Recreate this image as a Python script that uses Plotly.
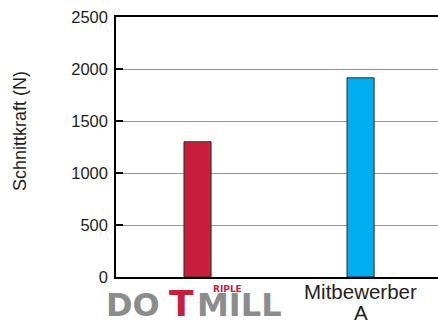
import plotly.graph_objects as go

categories = ["DOTMILL", "Mitbewerber A"]
values = [1300, 1915]
bar_colors = ["#c8203c", "#00aeef"]
label_lines = ["Mitbewerber", "A"]
y_ticks = [0, 500, 1000, 1500, 2000, 2500]

W, H = 438, 323
L, R, T, B = 116, 0, 17, 46
pw, ph = W - L - R, H - T - B


def px(x):
    return (x - L) / pw


def py(y):
    return (H - B - y) / ph


fig = go.Figure()
fig.add_trace(go.Bar(
    x=categories, y=values, width=0.166,
    marker=dict(color=bar_colors, line=dict(color="#2a2a2a", width=1)),
))

font_main = "Liberation Sans, Arial, sans-serif"
ink = "#231f20"

fig.update_layout(
    width=W, height=H,
    margin=dict(l=L, r=R, t=T, b=B, autoexpand=False),
    plot_bgcolor="white", paper_bgcolor="white",
    showlegend=False,
    font=dict(family=font_main, color=ink),
    xaxis=dict(
        showticklabels=False, automargin=False,
        showline=True, mirror=True, linecolor="black", linewidth=1.5,
        showgrid=False, ticks="", range=[-0.5, 1.475],
    ),
    yaxis=dict(
        range=[0, 2500], tickvals=y_ticks, automargin=False,
        tickfont=dict(size=16.5, color=ink),
        showline=True, linecolor="black", linewidth=1.5,
        showgrid=True, gridcolor="#959595", gridwidth=1,
        ticks="inside", ticklen=7, tickwidth=2, tickcolor="black",
        ticklabelstandoff=3, zeroline=False,
    ),
)

annotations = [
    dict(text="Schnittkraft (N)", x=px(20), y=py(131), textangle=-90,
         font=dict(size=18, color=ink, family=font_main)),
    dict(text=label_lines[0], xref="x", x=categories[1], y=py(291),
         font=dict(size=20.5, color=ink, family=font_main)),
    dict(text=label_lines[1], xref="x", x=categories[1], y=py(312),
         font=dict(size=20.5, color=ink, family=font_main)),
    dict(text="<b>DO</b>", x=px(133), y=py(305),
         font=dict(size=32, color="#8c8c8c", family="DejaVu Sans")),
    dict(text="<b>T</b>", x=px(181), y=py(303),
         font=dict(size=36, color="#c8203c", family="DejaVu Sans")),
    dict(text="<b>MILL</b>", x=px(239), y=py(305),
         font=dict(size=32, color="#8c8c8c", family="DejaVu Sans")),
    dict(text="<b>RIPLE</b>", x=px(227), y=py(289),
         font=dict(size=9, color="#c8203c", family="DejaVu Sans")),
]
for a in annotations:
    a.setdefault("xref", "paper")
    a.update(yref="paper", showarrow=False,
             xanchor="center", yanchor="middle", borderpad=0)
    fig.add_annotation(**a)

fig.write_html("out.html")
